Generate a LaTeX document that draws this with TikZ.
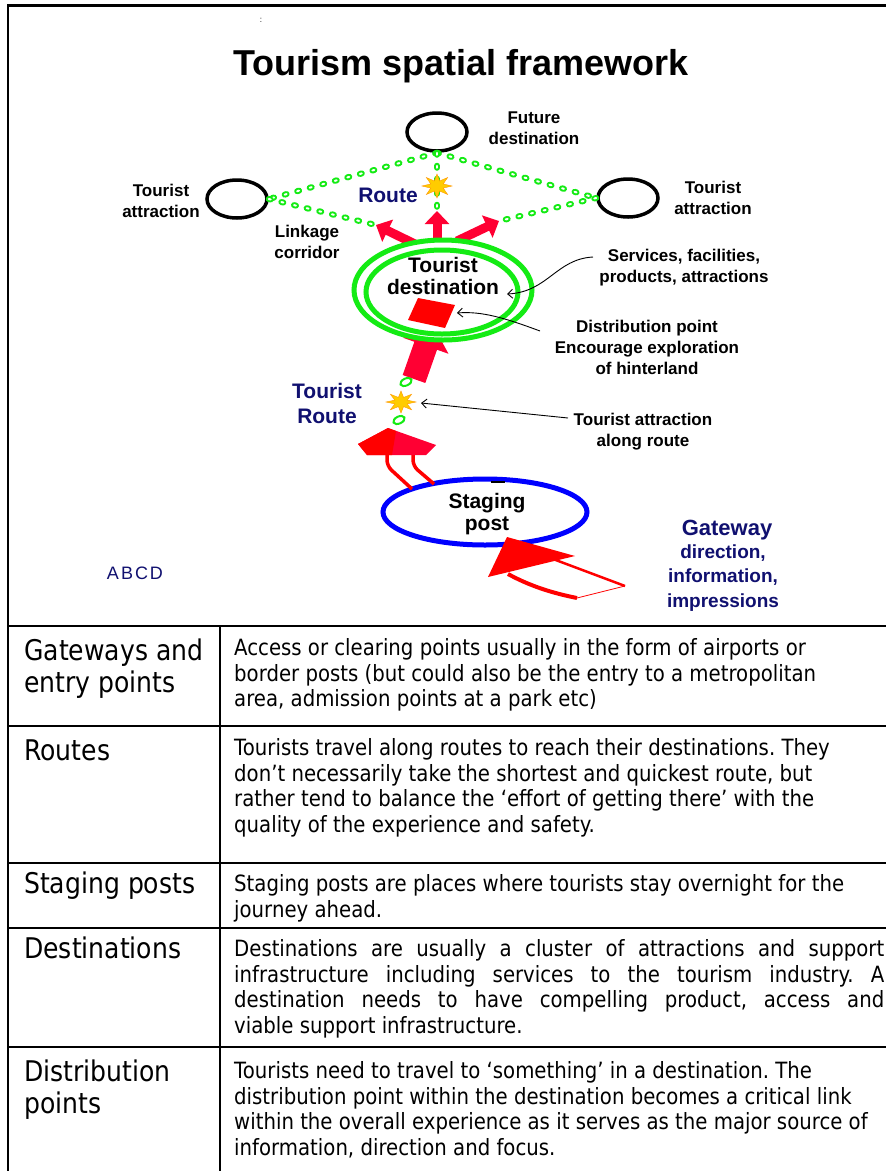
\documentclass[tikz,border=0pt]{standalone}
\usepackage{fontspec}
\setmainfont{Liberation Sans}
\newfontfamily\tabfont[FakeStretch=0.88]{DejaVu Sans}
\usetikzlibrary{arrows.meta,shapes.geometric}
\frenchspacing

\definecolor{crim}{RGB}{255,0,51}
\definecolor{grn}{RGB}{20,235,20}
\definecolor{navy}{RGB}{16,16,112}
\definecolor{gold}{RGB}{255,204,0}
\definecolor{starline}{RGB}{255,150,0}

% eight-pointed sparkle: centre x, centre y, x radius, y radius
\newcommand{\drawsparkle}[4]{%
  \fill[gold, draw=starline, line width=0.4pt] ({#1+#3},{#2})
    \foreach \k in {1,...,15} {
      -- ({#1+#3*(1-0.55*mod(\k,2))*cos(22.5*\k)},{#2+#4*(1-0.55*mod(\k,2))*sin(22.5*\k)})
    } -- cycle;}

\tikzset{
  lbl/.style={font=\bfseries\fontsize{17}{21}\selectfont, align=center, inner sep=0pt},
  biglbl/.style={font=\bfseries\fontsize{21}{22.5}\selectfont, align=center, inner sep=0pt},
  navylbl/.style={text=navy, font=\bfseries\fontsize{21}{25}\selectfont, align=center, inner sep=0pt},
  place/.style={ellipse, draw=black, line width=3.5pt, fill=white, minimum width=60pt, minimum height=38pt, inner sep=0pt},
  corridor/.style={draw=grn, line width=6pt, line cap=round, dash pattern=on 2pt off 11pt,
    postaction={draw=white, line width=2pt, line cap=round, dash pattern=on 2pt off 11pt}},
  blockarrow/.style={draw=crim, line width=9pt, -{Triangle[width=24pt,length=13pt]}},
  pointer/.style={draw=black, line width=0.9pt, -{Straight Barb[length=5pt,width=9pt]}},
  routering/.style={ellipse, draw=grn, line width=2pt, minimum width=12pt, minimum height=7pt, inner sep=0pt, rotate=25},
  rowline/.style={line width=2pt},
  cell/.style={font=\tabfont\fontsize{22.4}{25.5}\selectfont, anchor=base west, inner sep=0pt},
  rowhead/.style={font=\tabfont\fontsize{28.5}{32}\selectfont, anchor=base west, inner sep=0pt}
}

\begin{document}
\begin{tikzpicture}[x=1pt,y=-1pt]
\useasboundingbox (0,0) rectangle (886,1171);
\fill[white] (0,0) rectangle (886,1171);

% outer frame
\draw[line width=2.7pt] (8,1171) -- (8,5.5) -- (886,5.5);

\node[font=\fontsize{8}{9}\selectfont, inner sep=0pt] (colon) at (261,20) {:};
\node[font=\bfseries\fontsize{36}{40}\selectfont, inner sep=0pt] (title) at (461,66) {Tourism spatial framework};

% places linked by corridors
\node[place] (fut) at (437,132) {};
\node[place] (attrL) at (237,199) {};
\node[place] (attrR) at (628,198) {};

\coordinate (tipL) at (376,225);
\coordinate (tipM) at (437,211);
\coordinate (tipR) at (499,221);
\coordinate (tailL) at (417,245);
\coordinate (tailM) at (437,242);
\coordinate (tailR) at (457,241);

\draw[corridor] (fut.south) -- (attrL.east);
\draw[corridor] (fut.south) -- (attrR.west);
\draw[corridor] (fut.south) -- (tipM);
\draw[corridor] (attrL.east) -- (tipL);
\draw[corridor] (attrR.west) -- (tipR);

\drawsparkle{437}{186}{15}{12}

\draw[blockarrow] (tailL) -- (tipL);
\draw[blockarrow] (tailM) -- (tipM);
\draw[blockarrow] (tailR) -- (tipR);

% main route arrow into the destination
\coordinate (bigTail) at (414,379);
\coordinate (bigTip) at (433,325);
\draw[draw=crim, line width=24pt, -{Triangle[width=47pt,length=22pt]}] (bigTail) -- (bigTip);

% tourist destination
\node[ellipse, draw=grn, line width=5pt, fill=white, minimum width=178pt, minimum height=100pt, inner sep=0pt] (destO) at (443,290) {};
\node[ellipse, draw=grn, line width=5pt, minimum width=152pt, minimum height=84pt, inner sep=0pt] (destI) at (442,292) {};
\node[biglbl] (destlbl) at (443,276) {Tourist\\destination};
\fill[red] (418,298) -- (455,305) -- (445,328) -- (408,320) -- cycle;
\coordinate (sqR) at (457,313);

% labels of the upper part
\node[lbl] (futlbl) at (534,128) {Future\\destination};
\node[lbl] (attrLlbl) at (161,201) {Tourist\\attraction};
\node[lbl] (attrRlbl) at (713,198) {Tourist\\attraction};
\node[navylbl] (routelbl) at (388,195) {Route};
\node[lbl] (linklbl) at (307,242) {Linkage\\corridor};
\node[lbl] (svclbl) at (684,268) {Services, facilities,\\products, attractions};
\node[lbl] (distlbl) at (647,347) {Distribution point\\Encourage exploration\\of hinterland};

\coordinate (svcS) at (593,257);
\coordinate (svcE) at (507,294);
\draw[pointer] (svcS) .. controls (556,259) and (548,292) .. (svcE);
\coordinate (distS) at (540,331);
\draw[pointer] (distS) .. controls (505,318) and (482,311) .. (sqR);

% tourist route
\node[routering] (ov1) at (406,382) {};
\node[routering] (ov2) at (399,420) {};
\drawsparkle{401}{402}{15}{11}
\coordinate (star2) at (421,403);
\node[navylbl] (troute) at (327,403) {Tourist\\Route};
\node[lbl] (alonglbl) at (643,432) {Tourist attraction\\along route};
\coordinate (alongS) at (568,418);
\draw[pointer] (alongS) -- (star2);

% staging post and the route leaving it
\node[ellipse, draw=blue, line width=5pt, fill=white, minimum width=204pt, minimum height=66pt, inner sep=0pt] (stage) at (485,512) {};
\node[biglbl] (stagelbl) at (487,514) {Staging\\post};
\draw[line width=1.5pt] (491,482) -- (505,482);

\coordinate (sh1) at (412,489);
\coordinate (sh2) at (434,484);
\draw[red, line width=3.5pt, rounded corners=6pt] (387,450) -- (387,466) -- (sh1);
\draw[red, line width=3.5pt, rounded corners=6pt] (413,450) -- (413,466) -- (sh2);
\fill[crim] (358,444) -- (388,428) -- (436,445) -- (426,455) -- (367,455) -- cycle;
\fill[red] (358,444) -- (388,428) -- (396,431) -- (392,455) -- (367,455) -- cycle;

% gateway arrow
\fill[red] (507,537) -- (488,577) -- (575,556) -- cycle;
\draw[red, line width=2.5pt] (553,559) -- (625,586);
\draw[red, line width=0.8pt] (625,586) -- (577,598);
\draw[red, line width=4pt] (508,574) .. controls (530,586) and (552,593) .. (577,598);

\node[text=navy, font=\bfseries\fontsize{22}{24}\selectfont, inner sep=0pt] (gwlbl) at (727,530) {Gateway};
\node[text=navy, font=\bfseries\fontsize{19}{24.5}\selectfont, align=center, inner sep=0pt] (gwdlbl) at (723,578) {direction,\\information,\\impressions};
\node[text=navy, font=\fontsize{18}{20}\selectfont, inner sep=0pt] (abcd) at (135,573) {A\hspace{2pt}B\hspace{2pt}C\hspace{2pt}D};

% table
\draw[rowline] (8,626) -- (886,626);
\draw[rowline] (8,726) -- (886,726);
\draw[rowline] (8,863) -- (886,863);
\draw[rowline] (8,928) -- (886,928);
\draw[rowline] (8,1047) -- (886,1047);
\draw[rowline] (220,626) -- (220,1171);

\node[rowhead] (h1a) at (24,660) {Gateways and};
\node[rowhead] (h1b) at (24,692) {entry points};
\node[cell] (c1a) at (234,655) {Access or clearing points usually in the form of airports or};
\node[cell] (c1b) at (234,681) {border posts (but could also be the entry to a metropolitan};
\node[cell] (c1c) at (234,706) {area, admission points at a park etc)};

\node[rowhead] (h2) at (24,760) {Routes};
\node[cell] (c2a) at (234,755) {Tourists travel along routes to reach their destinations. They};
\node[cell] (c2b) at (234,781) {don’t necessarily take the shortest and quickest route, but};
\node[cell] (c2c) at (234,806) {rather tend to balance the ‘effort of getting there’ with the};
\node[cell] (c2d) at (234,832) {quality of the experience and safety.};

\node[rowhead] (h3) at (24,893) {Staging posts};
\node[cell] (c3a) at (234,891) {Staging posts are places where tourists stay overnight for the};
\node[cell] (c3b) at (234,917) {journey ahead.};

\node[rowhead] (h4) at (24,958) {Destinations};
\node[cell] (c4a) at (234,956) {\makebox[650pt][s]{Destinations are usually a cluster of attractions and support}};
\node[cell] (c4b) at (234,982) {\makebox[650pt][s]{infrastructure including services to the tourism industry. A}};
\node[cell] (c4c) at (234,1007) {\makebox[650pt][s]{destination needs to have compelling product, access and}};
\node[cell] (c4d) at (234,1033) {viable support infrastructure.};

\node[rowhead] (h5a) at (24,1081) {Distribution};
\node[rowhead] (h5b) at (24,1113) {points};
\node[cell] (c5a) at (234,1078) {Tourists need to travel to ‘something’ in a destination. The};
\node[cell] (c5b) at (234,1104) {distribution point within the destination becomes a critical link};
\node[cell] (c5c) at (234,1129) {within the overall experience as it serves as the major source of};
\node[cell] (c5d) at (234,1155) {information, direction and focus.};
\end{tikzpicture}
\end{document}
